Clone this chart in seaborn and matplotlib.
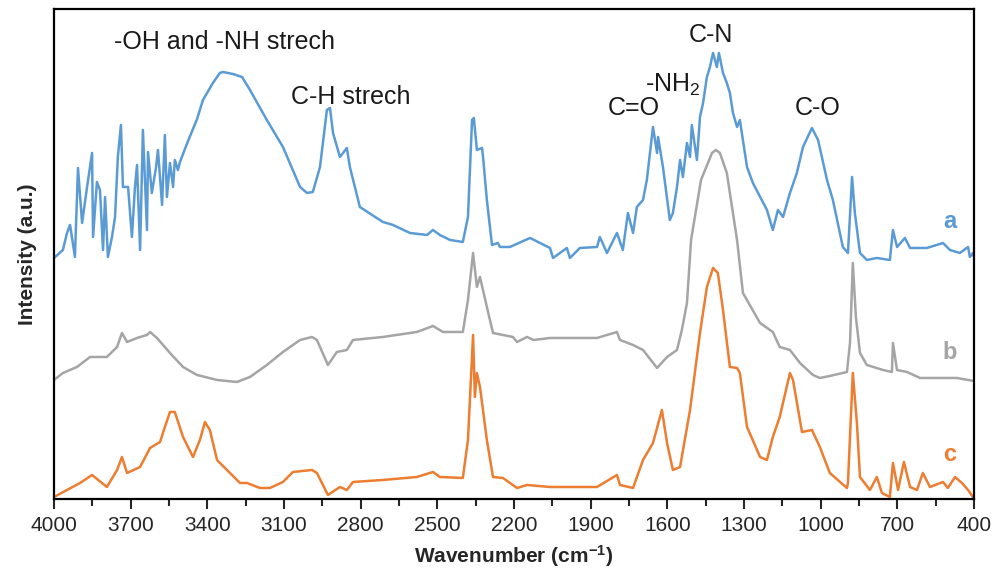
import pandas as pd
import seaborn as sns
import matplotlib.pyplot as plt
from matplotlib.ticker import FixedLocator

# spectrum a (blue)
wn_a = [4000, 3965, 3949, 3937, 3918, 3906, 3890, 3871, 3851, 3847, 3832, 3820, 3808, 3800,
        3789, 3773, 3761, 3750, 3738, 3730, 3710, 3695, 3683, 3675, 3663, 3652, 3636, 3632,
        3617, 3601, 3593, 3577, 3566, 3558, 3546, 3534, 3527, 3515, 3507, 3480, 3456, 3440,
        3417, 3378, 3351, 3339, 3300, 3264, 3233, 3167, 3104, 3037, 3010, 2987, 2959, 2932,
        2920, 2908, 2881, 2854, 2842, 2803, 2713, 2673, 2607, 2540, 2517, 2490, 2450, 2400,
        2380, 2364, 2357, 2345, 2325, 2321, 2306, 2286, 2263, 2255, 2216, 2137, 2059, 2047,
        1993, 1981, 1942, 1875, 1864, 1836, 1797, 1774, 1754, 1734, 1719, 1695, 1680, 1656,
        1640, 1636, 1617, 1590, 1578, 1562, 1550, 1539, 1523, 1511, 1504, 1484, 1472, 1460,
        1445, 1433, 1421, 1406, 1398, 1382, 1367, 1355, 1343, 1327, 1316, 1288, 1265, 1210,
        1187, 1167, 1147, 1120, 1093, 1069, 1034, 1010, 975, 952, 913, 893, 877, 866, 846,
        819, 780, 729, 717, 701, 670, 650, 584, 521, 494, 455, 423, 416, 404, 400]
int_a = [2.41, 2.49, 2.66, 2.74, 2.42, 3.31, 2.76, 3.11, 3.46, 2.62, 3.17, 3.09, 2.49, 3.02,
         2.42, 2.62, 2.82, 3.42, 3.74, 3.12, 3.12, 2.62, 3.12, 3.34, 2.49, 3.69, 2.69, 3.47,
         3.06, 3.31, 3.49, 2.94, 3.64, 3.02, 3.36, 3.12, 3.39, 3.29, 3.37, 3.55, 3.70, 3.80,
         3.99, 4.16, 4.26, 4.27, 4.25, 4.22, 4.09, 3.79, 3.52, 3.12, 3.06, 3.07, 3.32, 3.89,
         3.91, 3.66, 3.42, 3.51, 3.32, 2.92, 2.77, 2.74, 2.66, 2.64, 2.69, 2.64, 2.59, 2.57,
         2.82, 3.79, 3.81, 3.49, 3.51, 3.42, 2.99, 2.54, 2.56, 2.52, 2.52, 2.61, 2.51, 2.41,
         2.51, 2.41, 2.51, 2.52, 2.62, 2.46, 2.66, 2.49, 2.86, 2.66, 2.92, 2.99, 3.19, 3.72,
         3.46, 3.62, 3.32, 2.79, 2.86, 3.12, 3.39, 3.22, 3.56, 3.42, 3.74, 3.39, 3.82, 3.96,
         4.22, 4.32, 4.46, 4.32, 4.46, 4.26, 4.16, 4.06, 3.86, 3.72, 3.79, 3.32, 3.16, 2.89,
         2.69, 2.89, 2.82, 3.06, 3.26, 3.52, 3.71, 3.59, 3.19, 2.99, 2.52, 2.46, 3.22, 2.86, 2.46,
         2.39, 2.41, 2.39, 2.69, 2.52, 2.61, 2.51, 2.51, 2.56, 2.49, 2.46, 2.52, 2.42, 2.46, 2.42]

# spectrum b (grey)
wn_b = [4000, 3965, 3910, 3859, 3793, 3753, 3734, 3714, 3675, 3636, 3624, 3597, 3546, 3495,
        3440, 3362, 3284, 3233, 3167, 3104, 3037, 2990, 2971, 2928, 2893, 2854, 2830, 2713,
        2580, 2517, 2478, 2400, 2380, 2360, 2345, 2333, 2306, 2282, 2204, 2188, 2149, 2123,
        2059, 1875, 1797, 1785, 1734, 1695, 1640, 1601, 1562, 1543, 1523, 1507, 1468, 1425,
        1410, 1394, 1367, 1327, 1304, 1237, 1187, 1160, 1120, 1081, 1030, 1003, 964, 897,
        885, 874, 862, 846, 819, 756, 721, 717, 701, 662, 611, 533, 467, 400]
int_b = [1.19, 1.26, 1.32, 1.42, 1.42, 1.52, 1.66, 1.57, 1.61, 1.64, 1.67, 1.61, 1.46, 1.32,
         1.24, 1.19, 1.17, 1.22, 1.34, 1.47, 1.59, 1.62, 1.59, 1.34, 1.47, 1.49, 1.59, 1.62,
         1.67, 1.73, 1.67, 1.67, 1.99, 2.46, 2.12, 2.22, 1.92, 1.66, 1.62, 1.57, 1.62, 1.59,
         1.61, 1.61, 1.67, 1.59, 1.54, 1.49, 1.31, 1.42, 1.49, 1.69, 1.96, 2.59, 3.19, 3.46,
         3.49, 3.46, 3.26, 2.59, 2.06, 1.76, 1.67, 1.52, 1.49, 1.36, 1.24, 1.21, 1.23, 1.27,
         1.56, 2.36, 1.82, 1.46, 1.34, 1.29, 1.27, 1.56, 1.29, 1.27, 1.21, 1.21, 1.21, 1.18]

# spectrum c (orange)
wn_c = [4000, 3949, 3898, 3851, 3793, 3753, 3734, 3714, 3663, 3624, 3585, 3566, 3546, 3527,
        3495, 3456, 3429, 3409, 3390, 3362, 3323, 3272, 3245, 3194, 3155, 3104, 3065, 2990,
        2971, 2928, 2881, 2854, 2830, 2713, 2580, 2517, 2490, 2400, 2380, 2360, 2353, 2345,
        2333, 2306, 2282, 2243, 2188, 2149, 2059, 1875, 1797, 1785, 1734, 1695, 1656, 1621,
        1601, 1578, 1550, 1511, 1472, 1445, 1421, 1402, 1382, 1355, 1327, 1316, 1288, 1237,
        1210, 1187, 1160, 1120, 1108, 1073, 1034, 1003, 964, 897, 893, 874, 858, 846, 807,
        780, 760, 729, 717, 697, 674, 650, 623, 600, 572, 521, 502, 474, 447, 423, 404]
int_c = [0.02, 0.09, 0.16, 0.24, 0.12, 0.29, 0.42, 0.26, 0.32, 0.51, 0.57, 0.72, 0.87, 0.87,
         0.62, 0.42, 0.59, 0.77, 0.69, 0.39, 0.29, 0.16, 0.16, 0.11, 0.11, 0.17, 0.27, 0.29,
         0.26, 0.04, 0.12, 0.09, 0.17, 0.19, 0.22, 0.27, 0.22, 0.21, 0.59, 1.64, 1.02, 1.26,
         1.12, 0.59, 0.22, 0.21, 0.11, 0.14, 0.12, 0.12, 0.24, 0.14, 0.11, 0.39, 0.56, 0.89,
         0.56, 0.29, 0.32, 0.89, 1.66, 2.12, 2.31, 2.26, 1.89, 1.32, 1.31, 1.26, 0.72, 0.42,
         0.39, 0.62, 0.82, 1.26, 1.19, 0.67, 0.69, 0.52, 0.26, 0.11, 0.16, 1.26, 0.76, 0.22, 0.09,
         0.22, 0.06, 0.02, 0.36, 0.09, 0.37, 0.12, 0.09, 0.26, 0.12, 0.17, 0.11, 0.22, 0.16, 0.09, 0.02]

series_names = ['a', 'b', 'c']
series_colors = ['#5B9BD5', '#A5A5A5', '#ED7D31']
series_label_y = [2.77, 1.46, 0.44]

# peak assignments: text, wavenumber, height
peak_text = ['-OH and -NH strech', 'C-H strech', 'C=O', '-NH$_2$', 'C-N', 'C-O']
peak_wn = [3331, 2838, 1730, 1578, 1429, 1010]
peak_y = [4.57, 4.02, 3.91, 4.14, 4.64, 3.91]

major_ticks = [4000, 3700, 3400, 3100, 2800, 2500, 2200, 1900, 1600, 1300, 1000, 700, 400]
minor_ticks = [3850, 3550, 3250, 2950, 2650, 2350, 2050, 1750, 1450, 1150, 850, 550]

sns.set_style('white')
plt.rcParams['font.family'] = ['Liberation Sans', 'DejaVu Sans']
plt.rcParams['mathtext.fontset'] = 'custom'
plt.rcParams['mathtext.rm'] = 'Liberation Sans'
plt.rcParams['mathtext.bf'] = 'Liberation Sans:bold'
plt.rcParams['mathtext.default'] = 'regular'
plt.rcParams['axes.unicode_minus'] = False

fig = plt.figure(figsize=(10.05, 5.75), dpi=100)
ax = fig.add_axes([0.0537, 0.1322, 0.9154, 0.8522])

for name, wn, val, col in zip(series_names, [wn_a, wn_b, wn_c], [int_a, int_b, int_c], series_colors):
    df = pd.DataFrame({'wn': wn, 'I': val})
    sns.lineplot(data=df, x='wn', y='I', ax=ax, color=col, lw=1.8,
                 estimator=None, sort=False)

for name, col, yy in zip(series_names, series_colors, series_label_y):
    ax.text(494, yy, name, color=col, fontsize=17, fontweight='bold',
            ha='center', va='center')

for t, x, y in zip(peak_text, peak_wn, peak_y):
    ax.text(x, y, t, fontsize=18, color='#1a1a1a', ha='center', va='center')

ax.set_xlim(4000, 400)
ax.set_ylim(0, 4.9)
ax.xaxis.set_major_locator(FixedLocator(major_ticks))
ax.xaxis.set_minor_locator(FixedLocator(minor_ticks))
ax.set_xticklabels([str(t) for t in major_ticks])
ax.set_yticks([])
ax.tick_params(axis='x', which='major', direction='out', length=7, width=1.5,
               labelsize=15, pad=5, bottom=True)
ax.tick_params(axis='x', which='minor', direction='out', length=5, width=1.5, bottom=True)
for s in ax.spines.values():
    s.set_color('black')
    s.set_linewidth(1.6)

ax.set_xlabel('Wavenumber (cm$^{-1}$)', fontsize=15, fontweight='bold', labelpad=6)
ax.set_ylabel('Intensity (a.u.)', fontsize=15, fontweight='bold', labelpad=12)

plt.savefig('out.png', dpi=100)
